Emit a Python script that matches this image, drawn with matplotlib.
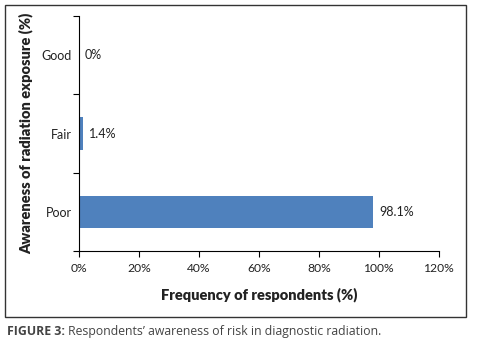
import numpy as np
import matplotlib.pyplot as plt
from matplotlib.patches import Rectangle

categories = ['Poor', 'Fair', 'Good']
values = [98.1, 1.4, 0.0]
value_labels = ['98.1%', '1.4%', '0%']
xticks = [0, 20, 40, 60, 80, 100, 120]

plt.rcParams['font.family'] = ['Lato', 'DejaVu Sans']

fig = plt.figure(figsize=(4.78, 3.5), dpi=100)
ax = fig.add_axes([0.165, 0.283, 0.753, 0.671])

ypos = np.arange(len(categories))
ax.barh(ypos, values, height=0.41, color='#4F81BD')

for y, v, t in zip(ypos, values, value_labels):
    ax.text(v + 2.0, y, t, va='center', ha='left', fontsize=9, color='#222222')

ax.set_xlim(0, 120)
ax.set_ylim(-0.5, 2.5)
ax.set_xticks(xticks)
ax.set_xticklabels([str(x) + '%' for x in xticks], fontsize=8.7, color='#222222')

# tick marks between categories, labels at centres
ax.set_yticks([-0.5, 0.5, 1.5, 2.5])
ax.set_yticklabels([])
ax.set_yticks(ypos, minor=True)
ax.set_yticklabels(categories, minor=True, fontsize=9, color='#222222')
ax.tick_params(axis='y', which='minor', length=0, pad=5)
ax.tick_params(axis='y', which='major', length=4, width=0.8)
ax.tick_params(axis='x', length=4, width=0.8, pad=5)

ax.spines['top'].set_visible(False)
ax.spines['right'].set_visible(False)
ax.spines['left'].set_linewidth(0.8)
ax.spines['bottom'].set_linewidth(0.8)

ax.set_xlabel('Frequency of respondents (%)', fontsize=10.5, fontweight='heavy',
              color='#222222', labelpad=9)
ax.set_ylabel('Awareness of radiation exposure (%)', fontsize=10.5, fontweight='heavy',
              color='#222222', labelpad=6)

# frame round the chart
fig.patches.append(Rectangle((0.0105, 0.094), 0.964, 0.891, transform=fig.transFigure,
                             fill=False, edgecolor='#333333', linewidth=1.0))

cap1 = fig.text(7 / 478, 0.054, 'FIGURE 3:', fontsize=8.8, fontweight='bold',
                color='#444444', family='Open Sans', va='center')
fig.canvas.draw()
bb = cap1.get_window_extent()
fig.text((bb.x1 + 3) / 478, 0.054, 'Respondents\u2019 awareness of risk in diagnostic radiation.',
         fontsize=8.8, color='#444444', family='Open Sans', va='center')

fig.savefig('out.png', dpi=100)
